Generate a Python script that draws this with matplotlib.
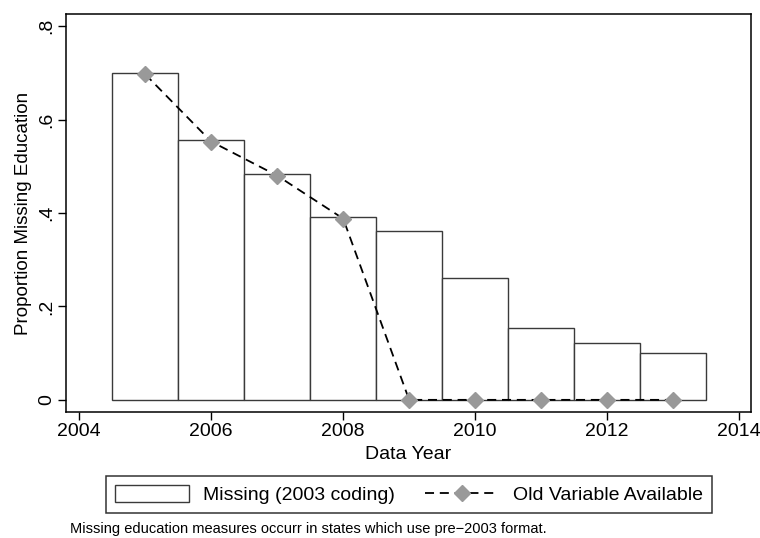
import matplotlib
matplotlib.use("Agg")
import matplotlib.pyplot as plt
from matplotlib.patches import Patch
from matplotlib.lines import Line2D

plt.rcParams['font.family'] = ['Liberation Sans', 'DejaVu Sans']

years = [2005, 2006, 2007, 2008, 2009, 2010, 2011, 2012, 2013]
missing_2003 = [0.700, 0.556, 0.484, 0.391, 0.362, 0.260, 0.153, 0.121, 0.100]
old_available = [0.697, 0.553, 0.480, 0.388, 0.0, 0.0, 0.0, 0.0, 0.0]

xticks = [2004, 2006, 2008, 2010, 2012, 2014]
yticks = [0, 0.2, 0.4, 0.6, 0.8]
ytick_labels = ["0", ".2", ".4", ".6", ".8"]

W, H = 760, 538
fig = plt.figure(figsize=(W / 100, H / 100), dpi=100)
ax = fig.add_axes([66 / W, 1 - 412 / H, (751 - 66) / W, (412 - 14) / H])

dash = (0, (5, 3.2))
ax.bar(years, missing_2003, width=1.0, color="white", edgecolor="#3a3a3a",
       linewidth=1.0, zorder=2)
ax.plot(years, old_available, linestyle=dash, color="black", linewidth=1.3,
        marker="D", markersize=8.5, markerfacecolor="#999999",
        markeredgecolor="#999999", zorder=3)

ax.set_xlim(2003.80, 2014.18)
ax.set_ylim(-0.026, 0.826)
ax.set_xticks(xticks)
ax.set_xticklabels([str(x) for x in xticks], fontsize=14)
ax.set_yticks(yticks)
ax.set_yticklabels(ytick_labels, fontsize=14, rotation=90, va="center")
ax.tick_params(direction="out", length=6, width=1, colors="black", pad=2)
for s in ax.spines.values():
    s.set_linewidth(1.1)

ax.set_xlabel("Data Year", fontsize=14, labelpad=4)
ax.set_ylabel("Proportion Missing Education", fontsize=13.5, labelpad=4)

handles = [
    Patch(facecolor="white", edgecolor="#3a3a3a", linewidth=1.0),
    Line2D([], [], linestyle=dash, color="black", linewidth=1.3,
           marker="D", markersize=8.5, markerfacecolor="#999999",
           markeredgecolor="#999999"),
]
labels = ["Missing (2003 coding)", "Old Variable Available"]
leg = fig.legend(handles, labels, loc="center",
                 bbox_to_anchor=(409 / W, 1 - 494.5 / H),
                 ncol=2, fontsize=14, frameon=True, fancybox=False,
                 edgecolor="black", handlelength=3.8, handleheight=1.0,
                 columnspacing=1.6, borderpad=0.45, handletextpad=0.7)
leg.get_frame().set_linewidth(1.1)

fig.text(70 / W, 1 - 533 / H,
         "Missing education measures occurr in states which use pre\u22122003 format.",
         fontsize=10.5, ha="left", va="baseline")

fig.savefig("out.png", dpi=100)
